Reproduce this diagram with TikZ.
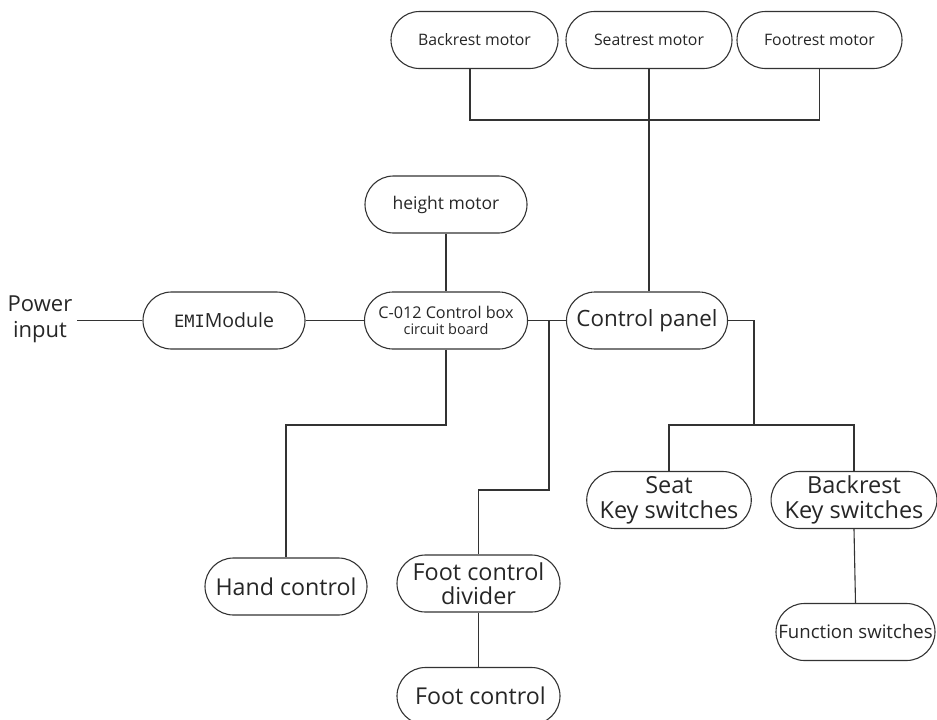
\documentclass[tikz,border=0pt]{standalone}
\usepackage{fontspec}
\setmainfont{Open Sans}
\newfontfamily\emifont{DejaVu Sans Mono}
\usetikzlibrary{shapes.misc}
\begin{document}
\begin{tikzpicture}[x=1pt,y=-1pt,
  box/.style={draw=black!80, line width=1.1pt, rounded rectangle, minimum height=57pt, align=center, inner sep=0pt, text=black!85},
  wire/.style={draw=black!80, line width=1.1pt}]
\useasboundingbox (0,0) rectangle (937,720);
% top motors
\node[box, minimum width=167pt, font=\fontsize{15.8}{18}\selectfont] (bm) at (474.5,40) {Backrest motor};
\node[box, minimum width=166pt, font=\fontsize{15.8}{18}\selectfont] (sm) at (649,40) {Seatrest motor};
\node[box, minimum width=165pt, font=\fontsize{15.8}{18}\selectfont] (fm) at (819.5,40) {Footrest motor};
\node[box, minimum width=162pt, font=\fontsize{17.5}{20}\selectfont] (hm) at (446,204.5) {height motor};
\node[box, minimum width=163pt, font=\fontsize{16.2}{17}\selectfont] (cb) at (446,320.5) {C-012 Control box\\[-1pt]{\fontsize{14.5}{16}\selectfont circuit board}};
\node[box, minimum width=162pt, font=\fontsize{19.5}{22}\selectfont] (emi) at (224,320.5) {{\emifont\fontsize{17}{20}\selectfont EMI}Module};
\node[box, minimum width=161pt, font=\fontsize{22.4}{24}\selectfont] (cp) at (647,320.5) {Control panel};
\node[align=center, inner sep=0pt, font=\fontsize{22}{26}\selectfont, text=black!85] (pw) at (40,319) {Power\\input};
\coordinate (pe) at (77,320.5);
\node[box, minimum width=160pt, font=\fontsize{23.5}{25}\selectfont] (sk) at (669,500) {Seat\\Key switches};
\node[box, minimum width=160pt, font=\fontsize{23.5}{25}\selectfont] (bk) at (854,500) {Backrest\\Key switches};
\node[box, minimum width=159pt, font=\fontsize{18.6}{20}\selectfont] (fs) at (855.5,632) {Function switches};
\node[box, minimum width=162pt, font=\fontsize{23.2}{25}\selectfont] (hc) at (286,586.5) {Hand control};
\node[box, minimum width=163pt, font=\fontsize{23.4}{24}\selectfont] (fd) at (478.5,583.5) {Foot control\\divider};
\node[box, minimum width=163pt, font=\fontsize{23.2}{25}\selectfont] (fc) at (478.5,696) {\,Foot control};
% connectors
\coordinate (jt) at (470,120);
\draw[wire] (jt |- bm.south) |- (fm.south |- jt) -- (fm.south);
\draw[wire] (sm.south) -- (sm.south |- cp.north);
\draw[wire] (hm.south) -- (cb.north);
\draw[wire] (pe) -- (emi.west);
\draw[wire] (emi.east) -- (cb.west);
\draw[wire] (cb.east) -- (cp.west);
\coordinate (jf) at (549,490);
\draw[wire] (jf |- cb.east) -- (jf) -| (fd.north);
\coordinate (jh) at (446,425);
\draw[wire] (cb.south) -- (jh) -| (hc.north);
\coordinate (jc) at (754,425);
\draw[wire] (cp.east) -| (jc);
\draw[wire] (sk.north) |- (jc) -| (bk.north);
\draw[wire] (bk.south) -- (fs.north);
\draw[wire] (fd.south) -- (fc.north);
\end{tikzpicture}
\end{document}
